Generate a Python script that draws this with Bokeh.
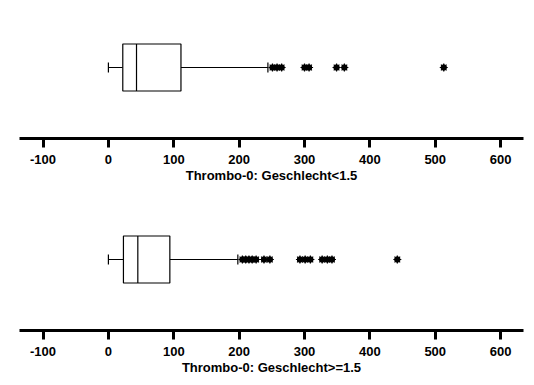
from bokeh.plotting import figure
from bokeh.models import Range1d, FixedTicker
from bokeh.layouts import column
from bokeh.embed import file_html
from bokeh.resources import INLINE

# ---- data ----
tick_values = [-100, 0, 100, 200, 300, 400, 500, 600]
tick_labels = ["-100", "0", "100", "200", "300", "400", "500", "600"]

titles = ["Thrombo-0: Geschlecht<1.5", "Thrombo-0: Geschlecht>=1.5"]
whisker_low = [0, 0]
q1 = [22, 23]
median = [43, 45]
q3 = [111, 94]
whisker_high = [244, 198]
outliers_top = [251, 258, 265, 300, 307, 349, 361, 513]
outliers_bottom = [205, 210, 215, 220, 226, 238, 247, 293, 301, 309, 327, 335, 342, 442]
outliers = [outliers_top, outliers_bottom]

FONT = "Liberation Sans"


def make_panel(i, height, top):
    p = figure(width=530, height=height, output_backend="svg", toolbar_location=None,
               x_range=Range1d(-136, 635), y_range=Range1d(0, 130),
               min_border_left=19, min_border_right=7, min_border_top=top,
               min_border_bottom=height - 130 - top)
    p.outline_line_color = None
    p.grid.visible = False
    p.yaxis.visible = False
    p.background_fill_color = "white"
    p.border_fill_color = "white"

    yc, half, cap = 71, 23.5, 5
    # whiskers
    p.segment(x0=[whisker_low[i], q3[i]], y0=[yc, yc], x1=[q1[i], whisker_high[i]], y1=[yc, yc],
              line_color="black", line_width=1)
    p.segment(x0=[whisker_low[i], whisker_high[i]], y0=[yc - cap] * 2,
              x1=[whisker_low[i], whisker_high[i]], y1=[yc + cap] * 2,
              line_color="black", line_width=1.2)
    # box
    p.quad(left=[q1[i]], right=[q3[i]], bottom=[yc - half], top=[yc + half],
           fill_color="white", line_color="black", line_width=1.2)
    p.segment(x0=[median[i]], y0=[yc - half], x1=[median[i]], y1=[yc + half],
              line_color="black", line_width=1.2)
    # outliers
    ys = [yc] * len(outliers[i])
    p.scatter(x=outliers[i], y=ys, marker="circle", size=5.5, fill_color="black", line_color="black")
    p.scatter(x=outliers[i], y=ys, marker="asterisk", size=8, line_color="black", line_width=1.2)

    ax = p.xaxis[0]
    ax.ticker = FixedTicker(ticks=tick_values)
    ax.major_label_overrides = {v: s for v, s in zip(tick_values, tick_labels)}
    ax.minor_tick_line_color = None
    ax.axis_line_width = 3
    ax.axis_line_color = "black"
    ax.major_tick_line_width = 3
    ax.major_tick_line_color = "black"
    ax.major_tick_out = 9
    ax.major_tick_in = 0
    ax.major_label_text_font = FONT
    ax.major_label_text_font_style = "bold"
    ax.major_label_text_font_size = "13px"
    ax.major_label_text_color = "black"
    ax.major_label_standoff = 7
    ax.axis_label = titles[i]
    ax.axis_label_text_font = FONT
    ax.axis_label_text_font_style = "bold"
    ax.axis_label_text_font_size = "13px"
    ax.axis_label_text_color = "black"
    ax.axis_label_standoff = 1
    return p


p1 = make_panel(0, 200, 8)
p2 = make_panel(1, 177, 0)
layout = column(p1, p2, spacing=0)

open("out.html", "w").write(file_html(layout, INLINE))
